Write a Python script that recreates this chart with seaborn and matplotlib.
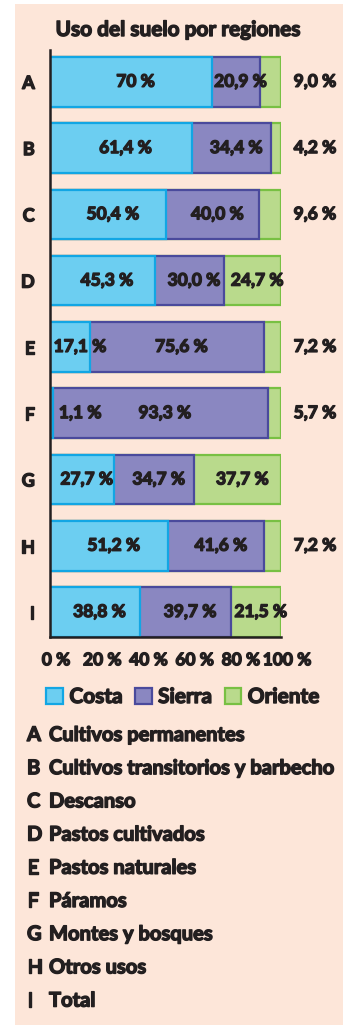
import matplotlib
matplotlib.use("Agg")
import matplotlib.pyplot as plt
import matplotlib.patheffects as pe
import matplotlib.transforms as mtransforms
from matplotlib.patches import Rectangle, Patch
import numpy as np
import pandas as pd
import seaborn as sns

# Land use shares (%) by region
letters = ["A", "B", "C", "D", "E", "F", "G", "H", "I"]
uses = ["Cultivos permanentes", "Cultivos transitorios y barbecho", "Descanso",
        "Pastos cultivados", "Pastos naturales", "Páramos", "Montes y bosques",
        "Otros usos", "Total"]
costa = [70, 61.4, 50.4, 45.3, 17.1, 1.1, 27.7, 51.2, 38.8]
sierra = [20.9, 34.4, 40.0, 30.0, 75.6, 93.3, 34.7, 41.6, 39.7]
oriente = [9.0, 4.2, 9.6, 24.7, 7.2, 5.7, 37.7, 7.2, 21.5]
series_names = ["Costa", "Sierra", "Oriente"]
xticks = [0, 20, 40, 60, 80, 100]

fills = {"Costa": "#6ccef1", "Sierra": "#8a87c1", "Oriente": "#b9da8c"}
edges = {"Costa": "#12a6e4", "Sierra": "#4a4a9c", "Oriente": "#78c043"}
BG = "#fde6d9"
INK = "#231f20"
W = "bold"
HEAVY = [pe.withStroke(linewidth=1.0, foreground=INK)]

sns.set_theme(style="white")
plt.rcParams["font.family"] = ["Lato", "DejaVu Sans"]
plt.rcParams["font.weight"] = W

df = pd.DataFrame({"letra": letters, "Costa": costa, "Sierra": sierra, "Oriente": oriente})
df["c1"] = df["Costa"]
df["c2"] = df["Costa"] + df["Sierra"]
df["c3"] = df["c2"] + df["Oriente"]

fig = plt.figure(figsize=(3.5, 10.25), dpi=100)
fig.patch.set_facecolor("white")
fig.patches.append(Rectangle((15 / 350, 0), 328 / 350, 1 - 4 / 1025,
                             transform=fig.transFigure, facecolor=BG,
                             edgecolor="none", zorder=-5))

ax = fig.add_axes([50 / 350, 1 - 637 / 1025, 231 / 350, 587 / 1025])
ax.set_facecolor("none")

# stacked bars drawn as cumulative totals, widest first
for col, name in [("c3", "Oriente"), ("c2", "Sierra"), ("c1", "Costa")]:
    sns.barplot(data=df, x=col, y="letra", orient="h", ax=ax, width=0.75,
                color=fills[name], saturation=1, edgecolor=edges[name],
                linewidth=1.6, errorbar=None)


def fmt(v):
    if isinstance(v, int):
        return f"{v} %"
    return f"{v:.1f} %".replace(".", ",")


lab_kw = dict(fontsize=12.5, fontweight=W, color=INK, va="center", ha="center",
              path_effects=HEAVY)
shift = 2.0
for i in range(len(letters)):
    c, s, o = costa[i], sierra[i], oriente[i]
    if c < 5:
        ax.text(c + 12, i, fmt(c), **lab_kw)
    else:
        ax.text(max(c / 2 + shift, 13), i, fmt(c), **lab_kw)
    ax.text(c + s / 2 + shift, i, fmt(s), **lab_kw)
    if o < 15:
        ax.text(114.7, i, fmt(o), clip_on=False, **lab_kw)
    else:
        ax.text(c + s + o / 2 + shift, i, fmt(o), **lab_kw)

ax.set_xlim(0, 100)
ax.set_ylim(len(letters) - 1 + 0.377, -0.48)
ax.set_xticks(xticks)
ax.set_xticklabels([f"{t} %" for t in xticks])
ax.set_xlabel("")
ax.set_ylabel("")
for side in ["top", "right"]:
    ax.spines[side].set_visible(False)
for side in ["left", "bottom"]:
    ax.spines[side].set_color(INK)
    ax.spines[side].set_linewidth(1.8)
ax.tick_params(axis="x", direction="in", length=5.5, width=1.8, color=INK,
               pad=11, labelsize=12.5, labelcolor=INK)
ax.tick_params(axis="y", length=0, pad=11, labelsize=13, labelcolor=INK)
nudge = mtransforms.ScaledTranslation(6 / 100, 0, fig.dpi_scale_trans)
for lab in ax.get_xticklabels():
    lab.set_transform(lab.get_transform() + nudge)
for lab in ax.get_xticklabels() + ax.get_yticklabels():
    lab.set_fontweight(W)
    lab.set_path_effects(HEAVY)

fig.text(0.511, 1 - 30 / 1025, "Uso del suelo por regiones", ha="center",
         va="center", fontsize=15, fontweight=W, color=INK, path_effects=HEAVY)

handles = [Patch(facecolor=fills[n], edgecolor=edges[n], linewidth=1.6, label=n)
           for n in series_names]
leg = fig.legend(handles=handles, loc="center", bbox_to_anchor=(0.523, 1 - 697 / 1025),
                 ncol=3, frameon=False, handlelength=0.8, handleheight=0.8,
                 handletextpad=0.3, columnspacing=0.6,
                 prop={"size": 15, "weight": W})
for t in leg.get_texts():
    t.set_color(INK)
    t.set_path_effects(HEAVY)

for i, (l, u) in enumerate(zip(letters, uses)):
    y = 1 - (735 + i * 33.2) / 1025
    fig.text(27 / 350, y, l, ha="left", va="center", fontsize=14.5,
             fontweight=W, color=INK, path_effects=HEAVY)
    fig.text(49 / 350, y, u, ha="left", va="center", fontsize=14.5,
             fontweight=W, color=INK, path_effects=HEAVY)

fig.savefig("out.png", dpi=100, facecolor="white")
